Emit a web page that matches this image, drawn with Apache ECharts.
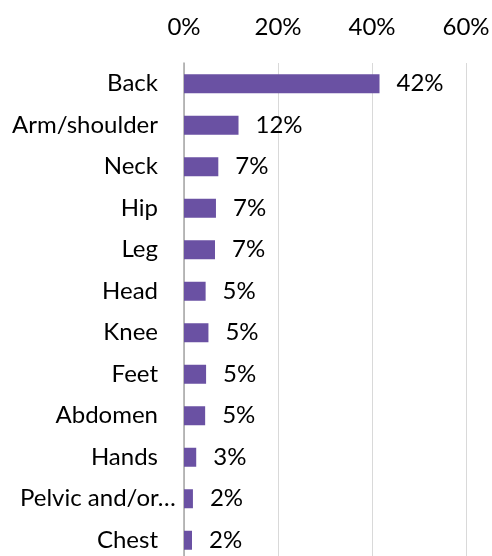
<!DOCTYPE html>
<html>
<head>
<meta charset="utf-8">
<script src="https://cdn.jsdelivr.net/npm/echarts@6/dist/echarts.min.js"></script>
<style>html,body{margin:0;padding:0;background:#fff}#c{width:492px;height:556px}</style>
</head>
<body>
<div id="c"></div>
<script>
var categories = ['Back','Arm/shoulder','Neck','Hip','Leg','Head','Knee','Feet','Abdomen','Hands','Pelvic and/or\u2026','Chest'];
var values = [41.6, 11.6, 7.3, 6.8, 6.6, 4.6, 5.2, 4.7, 4.5, 2.6, 1.9, 1.7];
var xTicks = [0, 20, 40, 60];

var chart = echarts.init(document.getElementById('c'), null, {renderer:'canvas'});
var font = 'Lato';
chart.setOption({
  animation:false,
  grid:{left:184, width:282, top:63, height:498, containLabel:false, outerBoundsMode:'none'},
  xAxis:{type:'value', position:'top', min:xTicks[0], max:xTicks[xTicks.length-1], interval:20,
    axisLine:{show:false}, axisTick:{show:false},
    splitLine:{show:true, lineStyle:{color:'#d9d9d9', width:1}},
    axisLabel:{formatter:function(v){return v+'%';}, color:'#000', fontFamily:font, fontSize:24, margin:24}
  },
  yAxis:{type:'category', inverse:true, data:categories,
    axisLine:{show:true, lineStyle:{color:'#a6a6a6', width:1.5}}, axisTick:{show:false},
    axisLabel:{color:'#000', fontFamily:font, fontSize:24, margin:26,
      formatter:function(v){ return v.indexOf('\u2026') >= 0 ? '{p|' + v + '}' : v; },
      rich:{p:{fontFamily:font, fontSize:24, color:'#000', width:138, align:'left', overflow:'none'}}
    }
  },
  series:[{type:'bar', data:values, barWidth:19,
    itemStyle:{color:'#6a51a3'},
    label:{show:true, position:'right', distance:17, color:'#000', fontFamily:font, fontSize:24,
      formatter:function(p){return Math.round(p.value)+'%';}}
  }]
});
</script>
</body>
</html>
